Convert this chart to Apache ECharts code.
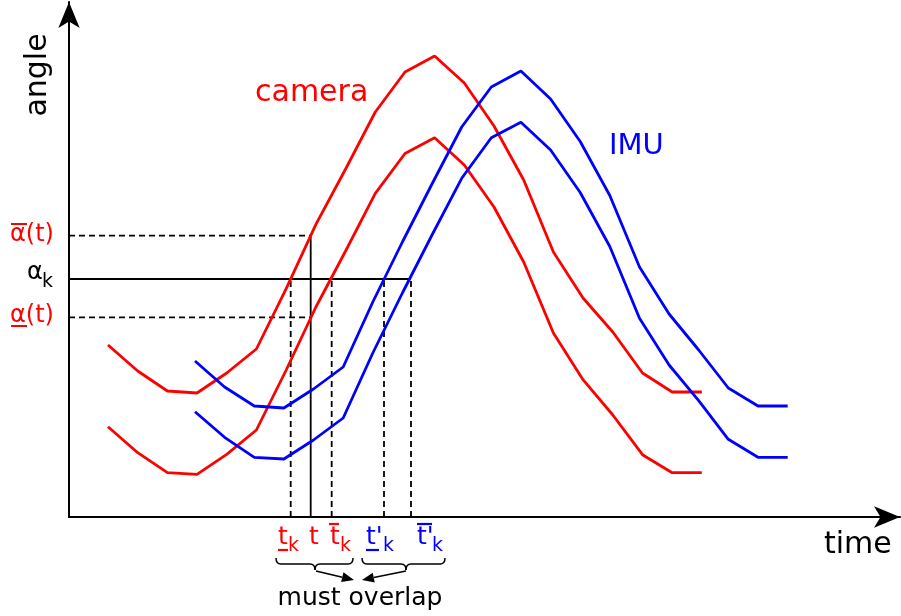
<!DOCTYPE html>
<html>
<head>
<meta charset="utf-8">
<script src="https://cdn.jsdelivr.net/npm/echarts@6/dist/echarts.min.js"></script>
<style>
  html, body { margin: 0; padding: 0; background: #fff; }
  #main { width: 901px; height: 616px; }
</style>
</head>
<body>
<div id="main"></div>
<script>
// camera samples (time, angle)
const camTime = [39, 68.7, 98.4, 128, 157.7, 187.4, 217.2, 246.9, 276.6, 306.3, 336, 365.6, 395.3, 425, 454.7, 484.4, 514, 543.8, 573.5, 603.2, 632.8];
const camUpper = [172, 146, 126, 124, 144, 168, 228.3, 292.6, 348, 405, 445, 461, 434, 391, 337, 265, 219, 185, 144, 125, 125];
const camLower = [90.3, 64.3, 44.3, 42.7, 62.7, 87, 147, 210, 266, 323.7, 363.5, 379.3, 352, 310, 255, 184, 137.3, 102, 62.3, 44.3, 44.3];
// IMU samples
const imuTime = [126, 155.6, 185.3, 214.9, 244.5, 274.2, 303.8, 333.4, 363, 392.7, 422.3, 451.9, 481.6, 511.2, 540.8, 570.5, 600.1, 629.7, 659.3, 689, 718.7];
const imuUpper = [156, 130, 111, 109, 128, 150, 215, 275, 333, 390, 430, 446, 418, 375.5, 321.5, 250, 203, 167, 129, 111, 111];
const imuLower = [105.3, 79.7, 59.7, 58, 77, 99, 164, 224, 282, 338.7, 379.3, 394.7, 367, 324.5, 270.5, 198.7, 152, 116.3, 77.7, 59.7, 59.7];
// reference levels
const alphaBar = 281.3, alphaK = 238, alphaUnder = 199.7;
const tUnderK = 221.7, tMid = 241.7, tBarK = 262.7, tpUnderK = 315, tpBarK = 342;

const RED = '#ff0000', BLUE = '#0000ff';
const FONT = 'DejaVu Sans';

const zip = (xs, ys) => xs.map((x, i) => [x, ys[i]]);

function curve(xs, ys, color) {
  return {
    type: 'line', data: zip(xs, ys), symbol: 'none', z: 3,
    lineStyle: { color: color, width: 2.8 }
  };
}
function ref(pts, dashed) {
  return {
    type: 'line', data: pts, symbol: 'none', z: 2, silent: true,
    lineStyle: { color: '#000', width: 1.8, type: dashed ? [6, 4] : 'solid' }
  };
}

const chart = echarts.init(document.getElementById('main'));

function txt(s, x, y, color, size, align) {
  return {
    type: 'text', x: x, y: y, silent: true,
    style: { text: s, fill: color, font: size + 'px "' + FONT + '"', verticalAlign: 'middle', align: align || 'left' }
  };
}
function seg(x1, y1, x2, y2, color, w) {
  return { type: 'line', silent: true, shape: { x1, y1, x2, y2 }, style: { stroke: color, lineWidth: w || 2 } };
}
function qc(x1, y1, cx, cy, x2, y2) {
  return { type: 'bezierCurve', silent: true,
    shape: { x1, y1, x2, y2, cpx1: cx, cpy1: cy },
    style: { stroke: '#000', fill: null, lineWidth: 1.5 } };
}
// curly brace under a group of labels
function brace(x1, x2, xm) {
  const y0 = 558, y1 = 564, y2 = 570;
  return [
    qc(x1, y0, x1, y1, x1 + 5, y1),
    seg(x1 + 5, y1, xm - 5, y1, '#000', 1.5),
    qc(xm - 5, y1, xm, y1, xm, y2),
    qc(xm, y2, xm, y1, xm + 5, y1),
    seg(xm + 5, y1, x2 - 5, y1, '#000', 1.5),
    qc(x2 - 5, y1, x2, y1, x2, y0)
  ];
}
function arrow(x1, y1, x2, y2) {
  const a = Math.atan2(y2 - y1, x2 - x1), L = 12, W = 5;
  const bx = x2 - L * Math.cos(a), by = y2 - L * Math.sin(a);
  const nx = -Math.sin(a), ny = Math.cos(a);
  return [
    seg(x1, y1, bx, by, '#000', 1.5),
    { type: 'polygon', silent: true,
      shape: { points: [[x2, y2], [bx + nx * W, by + ny * W], [bx - nx * W, by - ny * W]] },
      style: { fill: '#000' } }
  ];
}

const angleLabel = txt('angle', 38, 75, '#000', 30, 'center');
angleLabel.rotation = Math.PI / 2;

const option = {
  animation: false,
  grid: { left: 69, right: 1, top: 2, bottom: 99 },
  xAxis: {
    type: 'value', min: 0, max: 831,
    axisLine: { show: true, symbol: ['none', 'arrow'], symbolSize: [16, 26], lineStyle: { color: '#000', width: 2 } },
    axisTick: { show: false }, axisLabel: { show: false }, splitLine: { show: false }
  },
  yAxis: {
    type: 'value', min: 0, max: 515,
    axisLine: { show: true, symbol: ['none', 'arrow'], symbolSize: [16, 26], lineStyle: { color: '#000', width: 2 } },
    axisTick: { show: false }, axisLabel: { show: false }, splitLine: { show: false }
  },
  series: [
    ref([[0, alphaBar], [tMid, alphaBar]], true),
    ref([[0, alphaUnder], [tMid, alphaUnder]], true),
    ref([[0, alphaK], [tpBarK, alphaK]], false),
    ref([[tMid, 0], [tMid, alphaBar]], false),
    ref([[tUnderK, 0], [tUnderK, alphaK]], true),
    ref([[tBarK, 0], [tBarK, alphaK]], true),
    ref([[tpUnderK, 0], [tpUnderK, alphaK]], true),
    ref([[tpBarK, 0], [tpBarK, alphaK]], true),
    curve(camTime, camUpper, RED),
    curve(camTime, camLower, RED),
    curve(imuTime, imuUpper, BLUE),
    curve(imuTime, imuLower, BLUE)
  ],
  graphic: [
    txt('camera', 255, 93, RED, 30),
    txt('IMU', 609, 146, BLUE, 29),
    txt('time', 824, 545, '#000', 30),
    angleLabel,
    // left labels
    txt('α(t)', 10, 235, RED, 24), seg(11, 224, 27, 224, RED, 2),
    txt('α', 27, 273, '#000', 24), txt('k', 42, 282, '#000', 19),
    txt('α(t)', 10, 316, RED, 24), seg(11, 326, 27, 326, RED, 2),
    // bottom labels
    txt('t', 278, 537, RED, 25), txt('k', 288, 546, RED, 19), seg(278, 550, 288, 550, RED, 2.2),
    txt('t', 309, 537, RED, 25),
    txt('t', 330, 537, RED, 25), txt('k', 340, 546, RED, 19), seg(329, 524, 339, 524, RED, 2.2),
    txt("t'", 366, 537, BLUE, 25), txt('k', 383, 546, BLUE, 19), seg(366, 550, 379, 550, BLUE, 2.2),
    txt("t'", 417, 537, BLUE, 25), txt('k', 432, 546, BLUE, 19), seg(417, 524, 432, 524, BLUE, 2.2),
    ...brace(276, 353, 315),
    ...brace(362, 445, 406),
    ...arrow(316, 571, 354, 580),
    ...arrow(406, 571, 362, 580),
    txt('must overlap', 360, 598, '#000', 25, 'center')
  ]
};
chart.setOption(option);
</script>
</body>
</html>
